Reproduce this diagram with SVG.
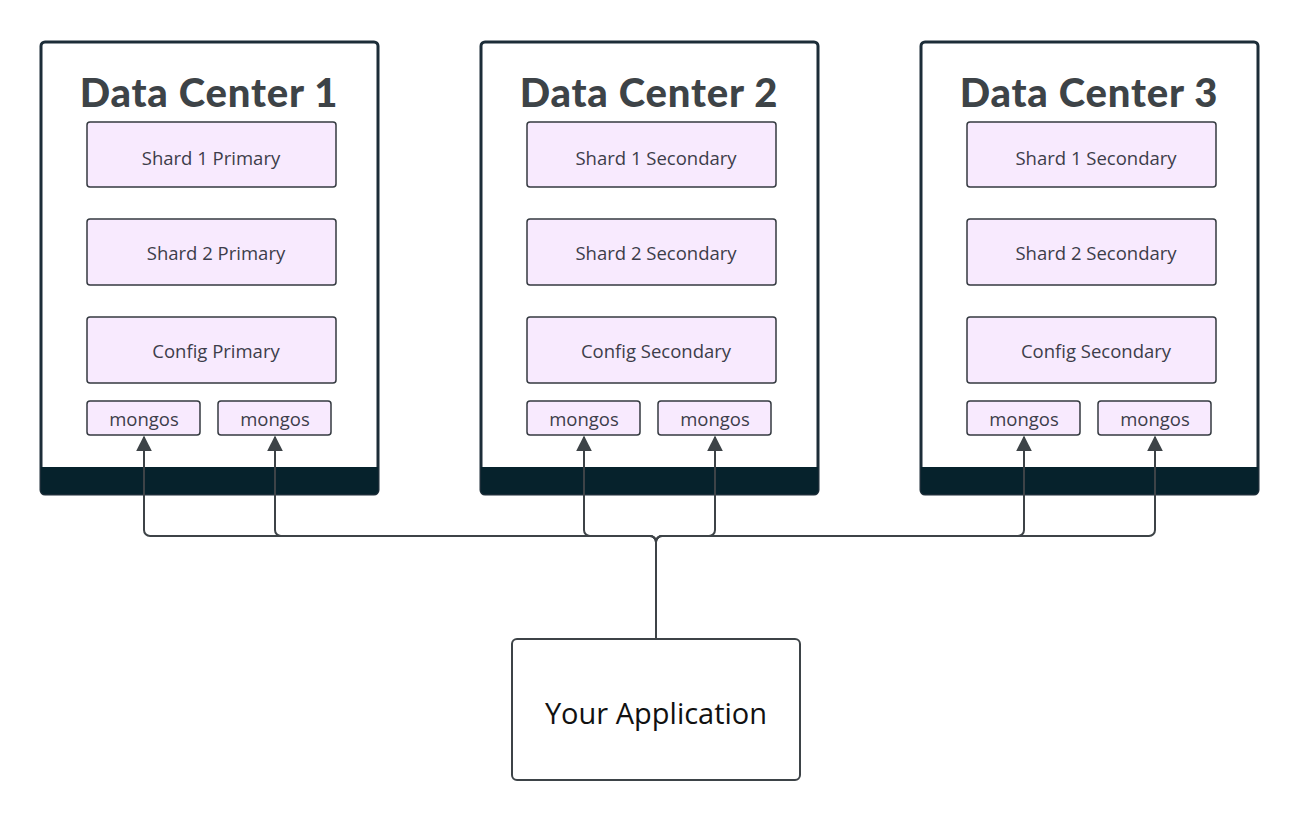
<svg xmlns="http://www.w3.org/2000/svg" width="1300" height="821" viewBox="0 0 1300 821">
<style>
.dc{fill:#fff;stroke:#1c2d38;stroke-width:3}
.ft{fill:#06222c}
.bx{fill:#f8eafe;stroke:#343a40;stroke-width:1.5}
.t{font-family:"Open Sans","Liberation Sans",sans-serif;font-size:18.5px;fill:#3d3d4a;text-anchor:middle;dominant-baseline:central}
.h{font-family:"Lato","Liberation Sans",sans-serif;font-weight:900;font-size:40px;letter-spacing:0.8px;fill:#3d4347;text-anchor:middle}
.c{fill:none;stroke:#3d4347;stroke-width:2}
</style>
<defs>
<marker id="a" viewBox="0 0 10 10" refX="9" refY="5" markerWidth="8" markerHeight="8" orient="auto"><path d="M0,0L10,5L0,10z" fill="#3d4347"/></marker>
<g id="dcT">
<rect class="dc" x="41" y="42" width="337" height="452" rx="4"/>
<path class="ft" d="M41,467H378V490a4,4 0 0 1-4,4H45a4,4 0 0 1-4-4z"/>
</g>
</defs>
<g id="dc1">
<use href="#dcT"/>
<text class="h" x="209" y="107">Data Center 1</text>
<rect class="bx" x="87" y="122" width="249" height="65" rx="3"/><text class="t" x="211" y="157">Shard 1 Primary</text>
<rect class="bx" x="87" y="219" width="249" height="66" rx="3"/><text class="t" x="216" y="252">Shard 2 Primary</text>
<rect class="bx" x="87" y="317" width="249" height="66" rx="3"/><text class="t" x="216" y="350">Config Primary</text>
<rect class="bx" x="87" y="401" width="113" height="34" rx="3"/><text class="t" x="144" y="418">mongos</text>
<rect class="bx" x="218" y="401" width="113" height="34" rx="3"/><text class="t" x="275" y="418">mongos</text>
</g>
<g id="dc2">
<use href="#dcT" x="440"/>
<text class="h" x="649" y="107">Data Center 2</text>
<rect class="bx" x="527" y="122" width="249" height="65" rx="3"/><text class="t" x="656" y="157">Shard 1 Secondary</text>
<rect class="bx" x="527" y="219" width="249" height="66" rx="3"/><text class="t" x="656" y="252">Shard 2 Secondary</text>
<rect class="bx" x="527" y="317" width="249" height="66" rx="3"/><text class="t" x="656" y="350">Config Secondary</text>
<rect class="bx" x="527" y="401" width="113" height="34" rx="3"/><text class="t" x="584" y="418">mongos</text>
<rect class="bx" x="658" y="401" width="113" height="34" rx="3"/><text class="t" x="715" y="418">mongos</text>
</g>
<g id="dc3">
<use href="#dcT" x="880"/>
<text class="h" x="1089" y="107">Data Center 3</text>
<rect class="bx" x="967" y="122" width="249" height="65" rx="3"/><text class="t" x="1096" y="157">Shard 1 Secondary</text>
<rect class="bx" x="967" y="219" width="249" height="66" rx="3"/><text class="t" x="1096" y="252">Shard 2 Secondary</text>
<rect class="bx" x="967" y="317" width="249" height="66" rx="3"/><text class="t" x="1096" y="350">Config Secondary</text>
<rect class="bx" x="967" y="401" width="113" height="34" rx="3"/><text class="t" x="1024" y="418">mongos</text>
<rect class="bx" x="1098" y="401" width="113" height="34" rx="3"/><text class="t" x="1155" y="418">mongos</text>
</g>
<g id="app">
<rect x="512" y="639" width="288" height="141" rx="5" fill="#fff" stroke="#3d4347" stroke-width="2"/>
<text x="656" y="712" font-family="'Open Sans','Liberation Sans',sans-serif" font-size="29" fill="#111" text-anchor="middle" dominant-baseline="central">Your Application</text>
</g>
<g id="connectors">
<path class="c" d="M656,638V542a6,6 0 0 0-6-6H150a6,6 0 0 1-6-6V437" marker-end="url(#a)"/>
<path class="c" d="M656,542a6,6 0 0 0-6-6H281a6,6 0 0 1-6-6V437" marker-end="url(#a)"/>
<path class="c" d="M656,542a6,6 0 0 0-6-6H590a6,6 0 0 1-6-6V437" marker-end="url(#a)"/>
<path class="c" d="M656,542a6,6 0 0 1 6-6H709a6,6 0 0 0 6-6V437" marker-end="url(#a)"/>
<path class="c" d="M656,542a6,6 0 0 1 6-6H1018a6,6 0 0 0 6-6V437" marker-end="url(#a)"/>
<path class="c" d="M656,542a6,6 0 0 1 6-6H1149a6,6 0 0 0 6-6V437" marker-end="url(#a)"/>
</g>
</svg>
